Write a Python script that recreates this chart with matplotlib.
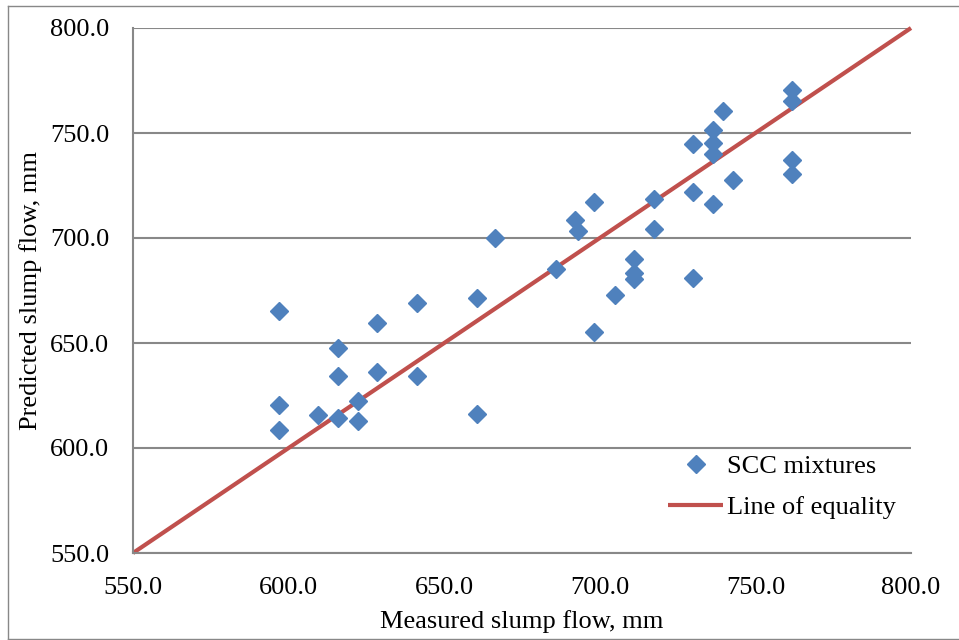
import matplotlib.pyplot as plt
from matplotlib.lines import Line2D

# Измеренные и предсказанные значения расплыва конуса, мм
measured = [596.8, 596.8, 596.8, 609.5, 615.9, 615.9, 615.9, 622.2, 622.2, 628.4,
            628.4, 641.2, 641.2, 660.4, 660.4, 666.3, 685.8, 692.0, 693.1, 698.2,
            698.2, 704.9, 711.1, 711.1, 711.1, 717.4, 717.4, 730.0, 730.0, 730.0,
            736.5, 736.5, 736.5, 736.5, 739.7, 742.9, 761.9, 761.9, 761.9, 761.9]
predicted = [665.2, 620.5, 608.6, 615.7, 647.6, 634.3, 614.3, 622.4, 612.9, 659.5,
             636.2, 669.0, 634.3, 671.4, 616.2, 700.0, 685.2, 708.6, 703.3, 717.1,
             655.2, 672.9, 690.0, 683.3, 680.5, 718.6, 704.3, 744.8, 721.9, 681.0,
             751.4, 745.2, 740.0, 716.2, 760.5, 727.6, 770.5, 765.2, 737.1, 730.5]
equality = [550, 800]
ticks = [550, 600, 650, 700, 750, 800]

plt.rcParams['font.family'] = ['Liberation Serif', 'DejaVu Serif']

W, H = 959, 640
fig = plt.figure(figsize=(W / 100, H / 100), dpi=100)

# Рамка вокруг области диаграммы (правая граница за краем картинки)
border = dict(color='#888888', linewidth=1, transform=fig.transFigure)
fig.add_artist(Line2D([8 / W, 8 / W], [1 - 6 / H, 1 - 639 / H], **border))
fig.add_artist(Line2D([8 / W, 1], [1 - 6 / H, 1 - 6 / H], **border))
fig.add_artist(Line2D([8 / W, 1], [1 - 639 / H, 1 - 639 / H], **border))

ax = fig.add_axes([133 / W, 1 - 553 / H, 778 / W, 525 / H])

ax.plot(measured, predicted, linestyle='none', marker='D', markersize=9.5,
        color='#4F81BD', label='SCC mixtures', zorder=3)
ax.plot(equality, equality, color='#C0504D', linewidth=3, label='Line of equality',
        zorder=2, solid_capstyle='butt', clip_on=False)

ax.set_xlim(550, 800)
ax.set_ylim(550, 800)
ax.set_xticks(ticks)
ax.set_yticks(ticks)
ax.set_xticklabels([f'{t:.1f}' for t in ticks])
ax.set_yticklabels([f'{t:.1f}' for t in ticks])
ax.tick_params(axis='both', labelsize=19, length=0)
ax.tick_params(axis='y', pad=17)
ax.tick_params(axis='x', pad=17)
ax.grid(axis='y', color='#888888', linewidth=1.5)
ax.set_axisbelow(True)
for s in ax.spines.values():
    s.set_color('#888888')
    s.set_linewidth(1.5)
ax.spines['right'].set_visible(False)
ax.spines['top'].set_visible(False)

ax.set_xlabel('Measured slump flow, mm', fontsize=19, labelpad=8)
ax.set_ylabel('Predicted slump flow, mm', fontsize=19, labelpad=6)

ax.legend(loc='upper left', bbox_to_anchor=(668 / W, 1 - 455 / H),
          bbox_transform=fig.transFigure, frameon=False, fontsize=19,
          borderpad=0, borderaxespad=0, handlelength=2.1, handletextpad=0.15,
          labelspacing=0.65)

plt.savefig('out.png', dpi=100)
